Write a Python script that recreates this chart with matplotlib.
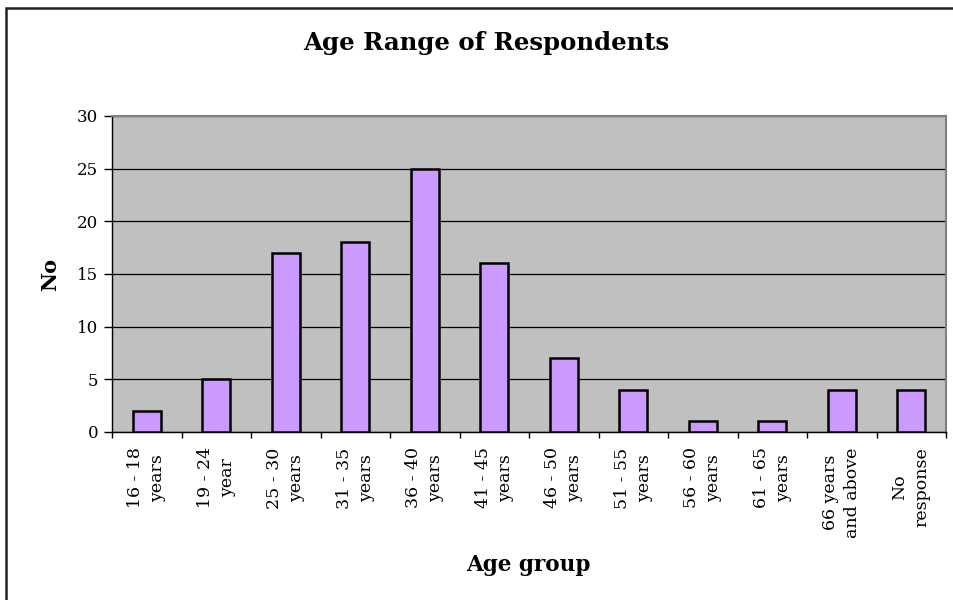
import matplotlib.pyplot as plt
from matplotlib.patches import Rectangle

categories = ['16 - 18\nyears', '19 - 24\nyear', '25 - 30\nyears', '31 - 35\nyears',
              '36 - 40\nyears', '41 - 45\nyears', '46 - 50\nyears', '51 - 55\nyears',
              '56 - 60\nyears', '61 - 65\nyears', '66 years\nand above', 'No\nresponse']
counts = [2, 5, 17, 18, 25, 16, 7, 4, 1, 1, 4, 4]

plt.rcParams['font.family'] = 'DejaVu Serif'

W, H = 954, 600
fig = plt.figure(figsize=(W / 100, H / 100), dpi=100)
ax = fig.add_axes([112 / W, 1 - 432 / H, (946 - 112) / W, (432 - 116) / H])

# outer chart frame (right/bottom edges run off the canvas)
fig.patches.append(Rectangle((6.5 / W, -0.05), 1.0, 1 - 7.5 / H + 0.05, transform=fig.transFigure,
                             fill=False, edgecolor='#222222', linewidth=1.8))

ax.set_facecolor('#C0C0C0')
x = range(len(categories))
ax.bar(x, counts, width=0.4, color='#CC99FF', edgecolor='black', linewidth=1.8, zorder=3)

ax.set_ylim(0, 30)
ax.set_yticks(range(0, 31, 5))
ax.set_xlim(-0.5, len(categories) - 0.5)
ax.yaxis.grid(True, color='black', linewidth=0.9, zorder=1)
ax.set_axisbelow(True)

ax.set_xticks([i - 0.5 for i in range(len(categories) + 1)])
ax.set_xticklabels([])
ax.set_xticks(list(x), minor=True)
ax.set_xticklabels(categories, minor=True, rotation=90, ha='center', va='top',
                   multialignment='center', fontsize=12.5, linespacing=1.4)
ax.tick_params(axis='x', which='minor', length=0, pad=11)
ax.tick_params(axis='x', which='major', length=4.5, width=1, direction='out')
ax.tick_params(axis='y', length=6, width=1, labelsize=12, pad=4)

for s in ['top', 'right']:
    ax.spines[s].set_color('#808080')
    ax.spines[s].set_linewidth(1.5)
for s in ['left', 'bottom']:
    ax.spines[s].set_color('black')
    ax.spines[s].set_linewidth(1)

fig.text(486 / W, 1 - 43 / H, 'Age Range of Respondents', ha='center', va='center',
         fontsize=17.6, fontweight='bold')
fig.text(50 / W, 1 - 274 / H, 'No', ha='center', va='center', rotation=90,
         fontsize=15, fontweight='bold')
fig.text(528 / W, 1 - 565 / H, 'Age group', ha='center', va='center',
         fontsize=15.5, fontweight='bold')

plt.savefig('out.png', dpi=100)
plt.close()
